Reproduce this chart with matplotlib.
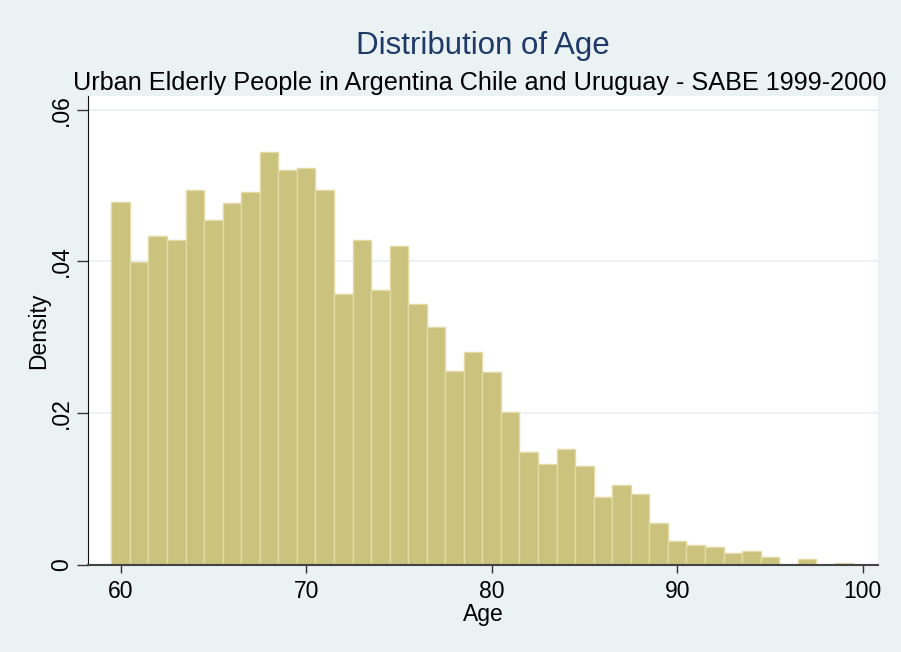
import matplotlib.pyplot as plt
import numpy as np

plt.rcParams["font.family"] = ["Liberation Sans", "DejaVu Sans"]

ages = np.arange(60, 100)
density = [
    0.0478, 0.0399, 0.0433, 0.0428, 0.0494, 0.0454, 0.0477, 0.0491, 0.0544, 0.0520,
    0.0523, 0.0494, 0.0357, 0.0428, 0.0362, 0.0420, 0.0344, 0.0314, 0.0256, 0.0281,
    0.0254, 0.0201, 0.0149, 0.0133, 0.0153, 0.0130, 0.0090, 0.0106, 0.0093, 0.0056,
    0.0032, 0.0027, 0.0024, 0.0016, 0.0019, 0.0011, 0.0, 0.0008, 0.0, 0.0003,
]
x_ticks = [60, 70, 80, 90, 100]
y_ticks = [0, 0.02, 0.04, 0.06]
y_labels = ["0", ".02", ".04", ".06"]

BG = "#eaf2f3"
BAR = "#cbc27d"
EDGE = "#e2dba6"
NAVY = "#1f3a68"

fig = plt.figure(figsize=(9.01, 6.52), dpi=100, facecolor=BG)
ax = fig.add_axes([0.0977, 0.1334, 0.8768, 0.7194])
ax.set_facecolor("white")

ax.bar(ages, density, width=1.0, color=BAR, edgecolor=EDGE, linewidth=1.0, zorder=2)

ax.set_xlim(58.24, 100.83)
ax.set_ylim(0, 0.0618)
ax.set_xticks(x_ticks)
ax.set_yticks(y_ticks, y_labels)
for t in ax.get_yticklabels():
    t.set_rotation(90)
    t.set_va("center")
ax.tick_params(axis="x", labelsize=16.5, length=6, width=1, color="#333333", pad=5)
ax.tick_params(axis="y", labelsize=16.5, length=8, width=1, color="#333333", pad=3)
ax.grid(axis="y", color=BG, linewidth=1.5, zorder=0)
ax.set_axisbelow(True)

for side in ["top", "right"]:
    ax.spines[side].set_visible(False)
ax.spines["left"].set_color("#111111")
ax.spines["bottom"].set_color("#444444")
ax.spines["bottom"].set_linewidth(1.5)

ax.set_xlabel("Age", fontsize=16.5, labelpad=0)
ax.set_ylabel("Density", fontsize=16.5, labelpad=0)

fig.text(0.536, 0.930, "Distribution of Age", fontsize=22.5, color=NAVY, ha="center", va="center")
fig.text(0.533, 0.873, "Urban Elderly People in Argentina Chile and Uruguay - SABE 1999-2000",
         fontsize=18.2, color="black", ha="center", va="center")

fig.savefig("out.png", dpi=100, facecolor=BG)
